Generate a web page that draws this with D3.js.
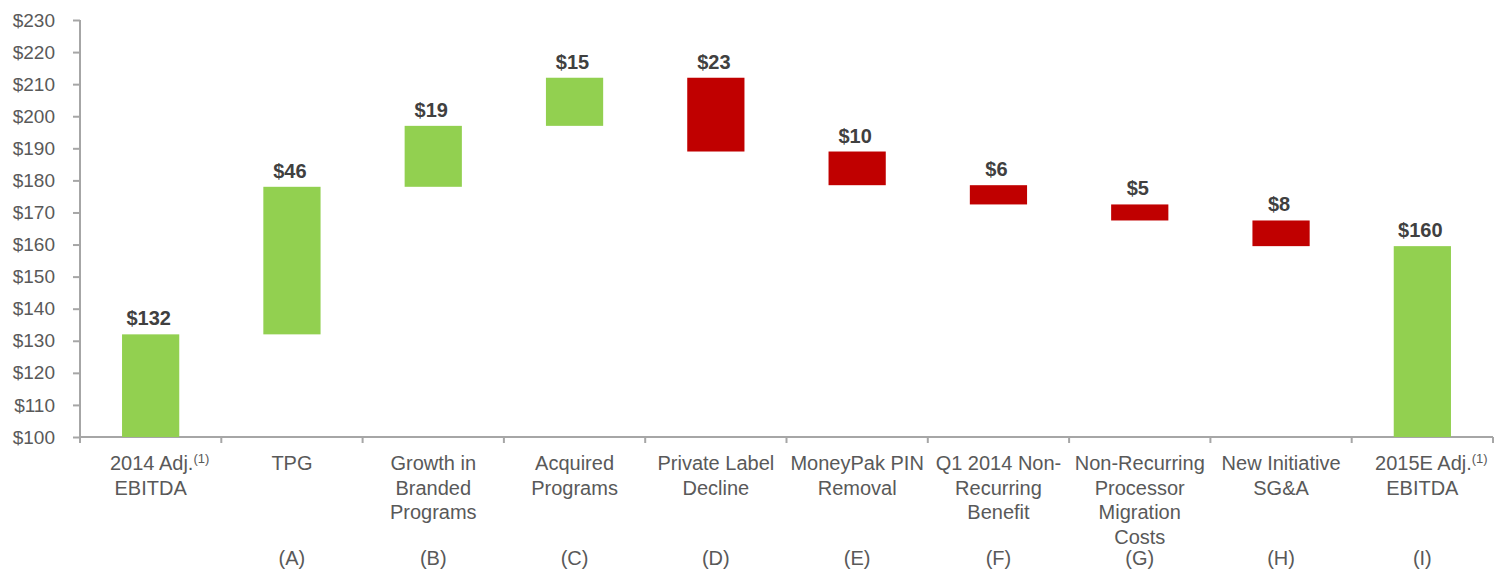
<!DOCTYPE html>
<html>
<head>
<meta charset="utf-8">
<script src="https://cdn.jsdelivr.net/npm/d3@7"></script>
<style>
  body { margin: 0; background: #fff; }
  svg text { font-family: "Liberation Sans", Arial, sans-serif; }
</style>
</head>
<body>
<div id="chart"></div>
<script>
// categories (one array of lines per category)
const categories = [
  ['2014 Adj.', 'EBITDA'],
  ['TPG'],
  ['Growth in', 'Branded', 'Programs'],
  ['Acquired', 'Programs'],
  ['Private Label', 'Decline'],
  ['MoneyPak PIN', 'Removal'],
  ['Q1 2014 Non-', 'Recurring', 'Benefit'],
  ['Non-Recurring', 'Processor', 'Migration', 'Costs'],
  ['New Initiative', 'SG&A'],
  ['2015E Adj.', 'EBITDA']
]
const footnotes = ['(1)', '', '', '', '', '', '', '', '', '(1)']
const letters = ['', '(A)', '(B)', '(C)', '(D)', '(E)', '(F)', '(G)', '(H)', '(I)']
// 'total' bars start at the axis, 'delta' bars float from the running sum
const kinds = ['total', 'delta', 'delta', 'delta', 'delta', 'delta', 'delta', 'delta', 'delta', 'total']
const values = [132, 46, 19, 15, -23, -10.5, -6, -5, -8, 159.5]
const valueLabels = ['$132', '$46', '$19', '$15', '$23', '$10', '$6', '$5', '$8', '$160']
const yTicks = [100, 110, 120, 130, 140, 150, 160, 170, 180, 190, 200, 210, 220, 230]

const width = 1495, height = 574
const margin = {top: 20, right: 2, bottom: 137, left: 80}
const green = '#92d050', red = '#c00000', axisColor = '#a6a6a6'

// running totals -> start/end of each bar
let running = 0
const bars = values.map((v, i) => {
  let start, end
  if (kinds[i] === 'total') {
    start = yTicks[0]; end = v; running = v
  } else {
    start = running; end = running + v; running = end
  }
  return {i, start, end, value: v, kind: kinds[i]}
})

const svg = d3.select('#chart').append('svg')
  .attr('width', width)
  .attr('height', height)

const x = d3.scaleBand()
  .domain(d3.range(categories.length))
  .range([margin.left, width - margin.right])
  .paddingInner(0)
  .paddingOuter(0)

const y = d3.scaleLinear()
  .domain([yTicks[0], yTicks[yTicks.length - 1]])
  .range([height - margin.bottom, margin.top])

const barW = x.bandwidth() * 0.405

// y axis
const yAxis = svg.append('g')
  .attr('transform', `translate(${margin.left},0)`)
  .call(d3.axisLeft(y).tickValues(yTicks).tickSize(7).tickPadding(18).tickFormat(d => '$' + d))
yAxis.selectAll('line, path').attr('stroke', axisColor).attr('stroke-width', 2)
yAxis.select('path').attr('d', `M0,${y(yTicks[0]) + 6}V${y(yTicks[yTicks.length - 1])}`)
yAxis.selectAll('text')
  .attr('fill', '#595959')
  .style('font-size', '19px')

// x axis line with tick marks between categories
const xg = svg.append('g')
xg.append('line')
  .attr('x1', margin.left).attr('x2', width - margin.right)
  .attr('y1', y(yTicks[0])).attr('y2', y(yTicks[0]))
  .attr('stroke', axisColor).attr('stroke-width', 2)
xg.selectAll('.xtick')
  .data(d3.range(categories.length + 1))
  .enter().append('line')
  .attr('x1', d => margin.left + d * x.step())
  .attr('x2', d => margin.left + d * x.step())
  .attr('y1', y(yTicks[0]))
  .attr('y2', y(yTicks[0]) + 6)
  .attr('stroke', axisColor).attr('stroke-width', 2)

// bars
svg.selectAll('.bar')
  .data(bars)
  .enter().append('rect')
  .attr('x', d => x(d.i) + (x.bandwidth() - barW) / 2)
  .attr('width', barW)
  .attr('y', d => y(Math.max(d.start, d.end)))
  .attr('height', d => Math.abs(y(d.start) - y(d.end)))
  .attr('fill', d => d.value >= 0 ? green : red)

// value labels
svg.selectAll('.vlabel')
  .data(bars)
  .enter().append('text')
  .attr('x', d => x(d.i) + x.bandwidth() / 2 - 2)
  .attr('y', d => y(Math.max(d.start, d.end)) - 9)
  .attr('text-anchor', 'middle')
  .attr('fill', '#404040')
  .style('font-size', '20px')
  .style('font-weight', 'bold')
  .text(d => valueLabels[d.i])

// category labels
const cat = svg.selectAll('.cat')
  .data(categories)
  .enter().append('text')
  .attr('text-anchor', 'middle')
  .attr('fill', '#595959')
  .style('font-size', '20px')
cat.each(function(lines, i) {
  const t = d3.select(this)
  const cx = x(i) + x.bandwidth() / 2
  lines.forEach((line, k) => {
    t.append('tspan')
      .attr('x', cx + (k === 0 && footnotes[i] ? 9 : 0))
      .attr('y', y(yTicks[0]) + 33 + k * 24.5)
      .text(line)
    if (k === 0 && footnotes[i]) {
      t.append('tspan')
        .attr('dy', -7)
        .style('font-size', '13px')
        .text(footnotes[i])
    }
  })
})

// letter row
svg.selectAll('.letter')
  .data(letters)
  .enter().append('text')
  .attr('x', (d, i) => x(i) + x.bandwidth() / 2)
  .attr('y', y(yTicks[0]) + 128)
  .attr('text-anchor', 'middle')
  .attr('fill', '#595959')
  .style('font-size', '20px')
  .text(d => d)
</script>
</body>
</html>
